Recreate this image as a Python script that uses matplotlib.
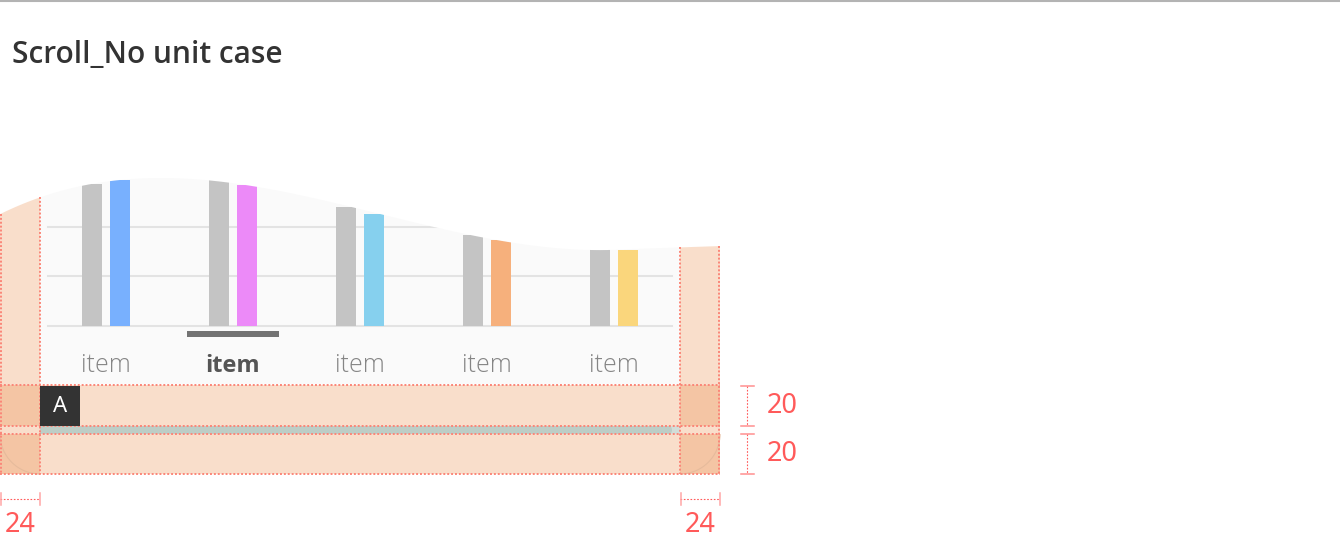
import numpy as np
import matplotlib
matplotlib.use('Agg')
import matplotlib.pyplot as plt
from matplotlib.patches import Rectangle, Polygon, FancyBboxPatch, Arc

# chart data
categories = ['item', 'item', 'item', 'item', 'item']
base_values = [2.85, 2.93, 2.40, 1.83, 1.54]
series_values = [2.94, 2.84, 2.26, 1.73, 1.53]
series_colors = ['#78b0fe', '#ec8af8', '#86d0ee', '#f6b07c', '#fad67c']
selected = 1
grid_values = [0, 1, 2]

title = 'Scroll_No unit case'
pad_label = '24'
row_label = '20'

W, H = 1340, 540
ORANGE = '#e87828'
DIM = '#ff5a5a'
DOT = '#fb8678'

fig = plt.figure(figsize=(W / 100, H / 100), dpi=100)

# overlay axes in pixel coordinates for the spec marks
ov = fig.add_axes([0, 0, 1, 1], zorder=0)
ov.set_xlim(0, W)
ov.set_ylim(H, 0)
ov.axis('off')


def px_axes(x0, y0, x1, y1, **kw):
    return fig.add_axes([x0 / W, 1 - y1 / H, (x1 - x0) / W, (y1 - y0) / H], **kw)


# bar chart: 127 px per group, first group at x=106, baseline y=326, 49.7 px per unit
ax = px_axes(0, 160, 720, 384, zorder=1)
ax.set_xlim(-106 / 127, (720 - 106) / 127)
ax.set_ylim(-(384 - 326) / 49.7, (326 - 160) / 49.7)
ax.axis('off')

x = np.arange(len(categories))
off = 14 / 127
bw = 20 / 127

# wave on top of the card follows the bar tops (cubic fit, straight past the last bar)
tops = np.column_stack([np.r_[x - off, x + off], np.r_[base_values, series_values]])
pts = ov.transData.inverted().transform(ax.transData.transform(tops))
coef = np.polyfit(pts[:, 0], pts[:, 1], 3)
x_end = pts[:, 0].max()
slope = np.polyval(np.polyder(coef), x_end)


def wave(xs):
    xs = np.asarray(xs, dtype=float)
    return np.where(xs <= x_end, np.polyval(coef, xs),
                    np.polyval(coef, x_end) + 0.5 * slope * (xs - x_end))


wx = np.linspace(0, 720, 181)
wy = wave(wx)

clip = Polygon(np.column_stack([np.r_[wx, 720, 0], np.r_[wy, 400, 400]]),
               closed=True, transform=ov.transData)

# card background
m = (wx >= 40) & (wx <= 680)
ov.add_patch(Polygon(np.column_stack([np.r_[wx[m], 680, 40], np.r_[wy[m], 384, 384]]),
                     closed=True, fc='#fafafa', ec='none', zorder=1))

# top rule and title
ov.plot([0, W], [1, 1], color='#b3b3b3', lw=1.5)
ov.text(12, 63, title, fontsize=21.5, fontweight='semibold', color='#333333',
        family='Open Sans', va='baseline', ha='left')

# scroll bar
ov.add_patch(Rectangle((40, 426), 640, 8, fc='#d3ddd8', ec='none', zorder=2))
ov.add_patch(Rectangle((40, 426), 626, 8, fc='#bdcdc6', ec='none', zorder=2))
ov.add_patch(FancyBboxPatch((656, 426), 16, 8, boxstyle='round,pad=0,rounding_size=4',
                            fc='#bdcdc6', ec='none', zorder=2))

# padding overlays
for a, b in [(0, 40), (680, 720)]:
    mm = (wx >= a) & (wx <= b)
    ov.add_patch(Polygon(np.column_stack([np.r_[wx[mm], b, a], np.r_[wy[mm], 474, 474]]),
                         closed=True, fc=ORANGE, alpha=0.24, ec='none', zorder=3))
for y0, y1 in [(385, 426), (434, 474)]:
    ov.add_patch(Rectangle((0, y0), 720, y1 - y0, fc=ORANGE, alpha=0.24, ec='none', zorder=3))

ov.add_patch(Arc((40, 434), 80, 80, theta1=90, theta2=180, color='#e6bb9c', lw=0.8, zorder=4))
ov.add_patch(Arc((680, 434), 80, 80, theta1=0, theta2=90, color='#e6bb9c', lw=0.8, zorder=4))

dotted = dict(color=DOT, lw=1.4, ls=(0, (1, 1)), zorder=4)
for yy in [385, 426, 434, 474]:
    ov.plot([0, 720], [yy, yy], **dotted)
for xx in [0.8, 40, 680, 719.2]:
    ov.plot([xx, xx], [wave(xx), 474], **dotted)

# "A" box
ov.add_patch(Rectangle((40, 386), 40, 40, fc='#333333', ec='none', zorder=5))
ov.text(60, 407, 'A', color='white', fontsize=16, ha='center', va='center',
        family='Noto Sans', zorder=6)

# dimension markers
for y0, y1 in [(386, 426), (434, 474)]:
    ov.plot([747, 747], [y0, y1], color=DIM, lw=0.8, ls=(0, (1.5, 1.5)))
    for yy in (y0, y1):
        ov.plot([741, 754], [yy, yy], color='#ff8f8f', lw=1.1)
    ov.text(782, (y0 + y1) / 2, row_label, color=DIM, fontsize=19.5, ha='center',
            va='center', family='Noto Sans')
for x0, x1 in [(0, 40), (680, 720)]:
    ov.plot([x0, x1], [499, 499], color=DIM, lw=0.8, ls=(0, (1.5, 1.5)))
    for xx in (x0 + 0.5, x1 - 0.5):
        ov.plot([xx, xx], [493, 505], color='#ffa5a5', lw=1.1)
    ov.text((x0 + x1) / 2, 525, pad_label, color=DIM, fontsize=19.5, ha='center',
            va='center', family='Noto Sans')

# grid lines
for g in grid_values:
    ln = ax.axhline(g, xmin=48 / 720, xmax=672 / 720, color='#e3e3e3', lw=1.5, zorder=1)
    ln.set_clip_path(clip)

# bars
gray = ax.bar(x - off, base_values, bw, color='#c4c4c4', zorder=2)
colored = ax.bar(x + off, series_values, bw, color=series_colors, zorder=2)
for p in list(gray) + list(colored):
    p.set_clip_path(clip)

# selection marker and labels
ax.add_patch(Rectangle((selected - 46 / 127, -(337 - 326) / 49.7), 92 / 127, 6 / 49.7,
                       fc='#737373', ec='none', zorder=3))
for i, cat in enumerate(categories):
    if i == selected:
        ax.text(i, -0.80, cat, ha='center', va='center', fontsize=17, color='#555555',
                family='Open Sans', fontweight='bold')
    else:
        ax.text(i, -0.80, cat, ha='center', va='center', fontsize=18, color='#858585',
                family='Open Sans', fontweight='light')

fig.savefig('out.png', dpi=100)
